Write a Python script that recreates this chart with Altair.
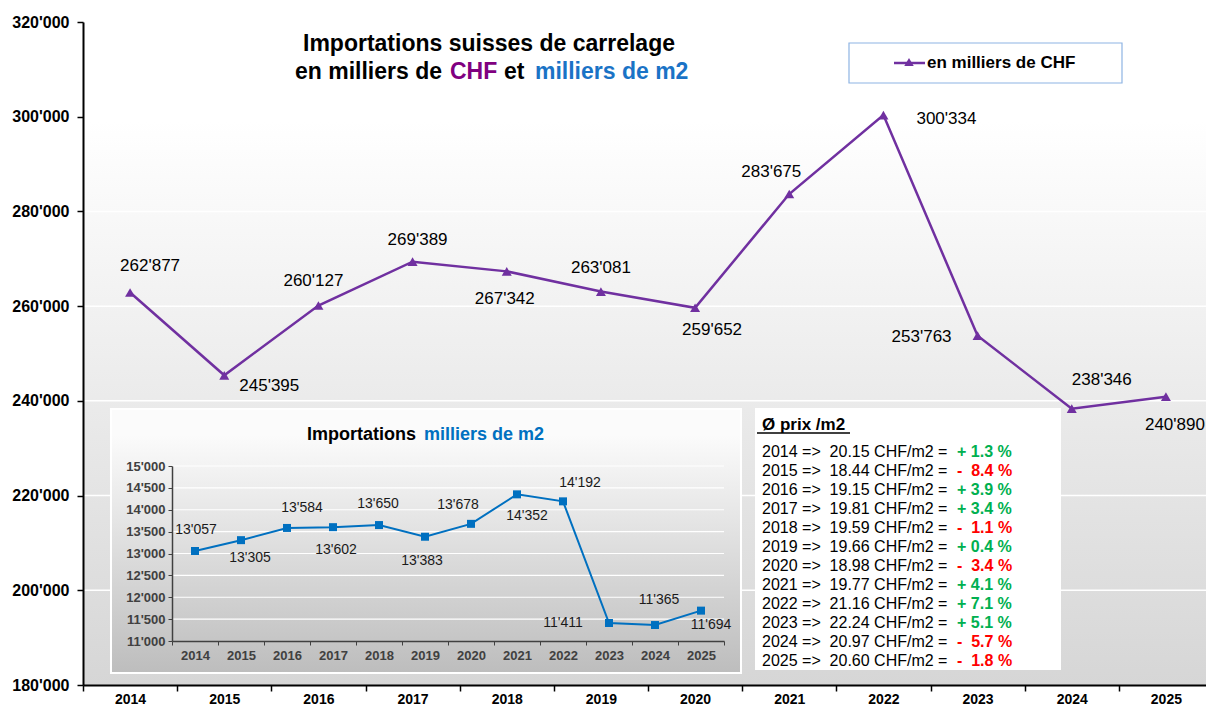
import altair as alt
import pandas as pd

# ---------------- data ----------------
years = list(range(2014, 2026))
chf_values = [262877, 245395, 260127, 269389, 267342, 263081, 259652, 283675, 300334, 253763, 238346, 240890]
m2_values = [13057, 13305, 13584, 13602, 13650, 13383, 13678, 14352, 14192, 11411, 11365, 11694]
price_m2 = ["20.15", "18.44", "19.15", "19.81", "19.59", "19.66", "18.98", "19.77", "21.16", "22.24", "20.97", "20.60"]
price_change = ["+ 1.3 %", "-  8.4 %", "+ 3.9 %", "+ 3.4 %", "-  1.1 %", "+ 0.4 %", "-  3.4 %",
                "+ 4.1 %", "+ 7.1 %", "+ 5.1 %", "-  5.7 %", "-  1.8 %"]
chf_ticks = list(range(180000, 320001, 20000))
m2_ticks = list(range(11000, 15001, 500))

# label placement (pixel offsets from each point), kept apart from the values
chf_label_dx = [20, 45, -5, 5, -2, 0, 17, -18, 63, -56, 30, 9]
chf_label_dy = [-27, 11, -25, -22, 28, -24, 22, -22, 4, 1, -29, 28]
m2_label_dx = [1, 9, 15, 3, -1, -3, -13, 10, 17, -46, 4, 10]
m2_label_dy = [-21, 18, -20, 23, -21, 24, -19, 22, -18, 0, -25, 14]

# ---------------- styles ----------------
FONT = "Liberation Sans"
PURPLE = "#7030a0"
BLUE = "#0070c0"
TITLE_PURPLE = "#800080"
TITLE_BLUE = "#1a73c6"
GREEN = "#00b050"
RED = "#ff0000"
W, H = 1123, 663


def fmt(v):
    return f"{v:,}".replace(",", "'")


LBL_EXPR = "replace(format(datum.value, ','), ',', \"'\")"
blank = pd.DataFrame({"k": [0]})

df_main = pd.DataFrame({"year": years, "chf": chf_values, "label": [fmt(v) for v in chf_values],
                        "dx": chf_label_dx, "dy": chf_label_dy})
df_m2 = pd.DataFrame({"year": years, "m2": m2_values, "label": [fmt(v) for v in m2_values],
                      "dx": m2_label_dx, "dy": m2_label_dy})
df_tab = pd.DataFrame({
    "row": list(range(len(years))),
    "left": [f"{y} =>\u00a0 {p} CHF/m2 = " for y, p in zip(years, price_m2)],
    "right": [c.replace("  ", "\u00a0 ") for c in price_change],
    "col": [GREEN if c.startswith("+") else RED for c in price_change],
})

# ---------------- scales ----------------
main_x = alt.Scale(type="band", domain=years, range=[0, 1130], paddingInner=0, paddingOuter=0)
main_y = alt.Scale(domain=[180000, 320000], zero=False, nice=False)
ins_x = alt.Scale(type="band", domain=years, range=[89, 641], paddingInner=0, paddingOuter=0)
ins_y = alt.Scale(domain=[11000, 15000], range=[619, 444], zero=False, nice=False)
tab_y = alt.Scale(domain=[0, 11], range=[430, 639], zero=False, nice=False)

main_xaxis = alt.Axis(orient="bottom", title=None, tickBand="extent", tickSize=6, tickWidth=1.5,
                      tickColor="black", domainColor="black", domainWidth=2, labelFontSize=14,
                      labelFontWeight="bold", labelColor="black", labelPadding=1, labelAngle=0,
                      zindex=1, grid=False)
main_yaxis = alt.Axis(orient="left", title=None, values=chf_ticks, tickSize=6, tickWidth=1.5,
                      tickColor="black", domainColor="black", domainWidth=2, labelFontSize=16,
                      labelFontWeight="bold", labelColor="black", labelPadding=8, labelExpr=LBL_EXPR,
                      zindex=1, grid=False)
ins_xaxis = alt.Axis(orient="bottom", offset=-44, title=None, tickBand="extent", tickSize=4,
                     tickWidth=1, tickColor="#404040", domainColor="#404040", domainWidth=1.5,
                     labelFontSize=13, labelFontWeight="bold", labelColor="#404040", labelPadding=4,
                     labelAngle=0, zindex=1, grid=False)
ins_yaxis = alt.Axis(orient="left", offset=-89, title=None, values=m2_ticks, tickSize=4, tickWidth=1,
                     tickColor="#404040", domainColor="#404040", domainWidth=1.5, labelFontSize=13,
                     labelFontWeight="bold", labelColor="#404040", labelPadding=3, labelExpr=LBL_EXPR,
                     zindex=1, grid=False)


def grad(c0, c1, mid=0.0):
    stops = [alt.GradientStop(offset=0, color=c0)]
    if mid > 0:
        stops.append(alt.GradientStop(offset=mid, color=c0))
    stops.append(alt.GradientStop(offset=1, color=c1))
    return alt.LinearGradient(gradient="linear", x1=0, x2=0, y1=0, y2=1, stops=stops)


layers = []

# main background + grid
layers.append(alt.Chart(blank).mark_rect(fill=grad("#ffffff", "#d6d6d6", 0.15), strokeWidth=0).encode(
    x=alt.value(0), x2=alt.value(W), y=alt.value(0), y2=alt.value(H)))
layers.append(alt.Chart(pd.DataFrame({"v": chf_ticks[1:]})).mark_rule(color="white", strokeWidth=1.5).encode(
    y=alt.Y("v:Q", scale=main_y, axis=None)))

# inset background + grid
layers.append(alt.Chart(blank).mark_rect(fill=grad("#fbfbfb", "#bdbdbd", 0.1), stroke="white", strokeWidth=2).encode(
    x=alt.value(28), x2=alt.value(658), y=alt.value(387), y2=alt.value(651)))
layers.append(alt.Chart(pd.DataFrame({"v": m2_ticks[1:], "a": 0, "b": 1})).mark_rule(
    color="white", strokeWidth=1.2).encode(
    y=alt.Y("v:Q", scale=ins_y, axis=None),
    x=alt.X("a:Q", scale=alt.Scale(domain=[0, 1], range=[89, 641]), axis=None),
    x2="b:Q"))

# inset title
layers.append(alt.Chart(blank).mark_text(text="Importations", align="left", baseline="middle", fontSize=18,
                                         fontWeight="bold", color="black").encode(x=alt.value(224), y=alt.value(413)))
layers.append(alt.Chart(blank).mark_text(text="milliers de m2", align="left", baseline="middle", fontSize=18,
                                         fontWeight="bold", color=BLUE).encode(x=alt.value(341), y=alt.value(413)))

# inset series
ins_base_x = alt.X("year:O", scale=ins_x, bandPosition=0.5, axis=None)
ins_base_y = alt.Y("m2:Q", scale=ins_y, axis=None)
layers.append(alt.Chart(df_m2).mark_line(color=BLUE, strokeWidth=2).encode(
    x=alt.X("year:O", scale=ins_x, bandPosition=0.5, axis=ins_xaxis),
    y=alt.Y("m2:Q", scale=ins_y, axis=ins_yaxis)))
layers.append(alt.Chart(df_m2).mark_point(shape="square", filled=True, size=64, color=BLUE, opacity=1).encode(
    x=ins_base_x, y=ins_base_y))
layers.append(alt.Chart(df_m2).mark_text(fontSize=14, color="#1a1a1a", baseline="middle",
                                         dx=alt.ExprRef(expr="datum.dx"), dy=alt.ExprRef(expr="datum.dy")).encode(
    x=ins_base_x, y=ins_base_y, text="label:N"))

# price table
layers.append(alt.Chart(blank).mark_rect(fill="white").encode(
    x=alt.value(672), x2=alt.value(978), y=alt.value(386), y2=alt.value(648)))
layers.append(alt.Chart(blank).mark_text(text="Ø prix /m2", align="left", baseline="middle", fontSize=17,
                                         fontWeight="bold", color="black").encode(x=alt.value(679), y=alt.value(403)))
layers.append(alt.Chart(blank).mark_rule(color="black", strokeWidth=1.5).encode(
    x=alt.value(674), x2=alt.value(767), y=alt.value(411)))
layers.append(alt.Chart(df_tab).mark_text(align="left", baseline="middle", fontSize=16, color="black").encode(
    x=alt.value(679), y=alt.Y("row:Q", scale=tab_y, axis=None), text="left:N"))
layers.append(alt.Chart(df_tab).mark_text(align="left", baseline="middle", fontSize=16, fontWeight="bold").encode(
    x=alt.value(874), y=alt.Y("row:Q", scale=tab_y, axis=None), text="right:N",
    color=alt.Color("col:N", scale=None)))

# main title
layers.append(alt.Chart(blank).mark_text(text="Importations suisses de carrelage", align="center", baseline="middle",
                                         fontSize=23, fontWeight="bold", color="black").encode(
    x=alt.value(406), y=alt.value(22)))
for txt, xx, col in [("en milliers de", 212, "black"), ("CHF", 367, TITLE_PURPLE), ("et", 421, "black"),
                     ("milliers de m2", 452, TITLE_BLUE)]:
    layers.append(alt.Chart(blank).mark_text(text=txt, align="left", baseline="middle", fontSize=23,
                                             fontWeight="bold", color=col).encode(x=alt.value(xx), y=alt.value(50)))

# legend
layers.append(alt.Chart(blank).mark_rect(fill="white", stroke="#8eb4e3", strokeWidth=1.2).encode(
    x=alt.value(766), x2=alt.value(1039), y=alt.value(21), y2=alt.value(61)))
layers.append(alt.Chart(blank).mark_rule(color=PURPLE, strokeWidth=2.5).encode(
    x=alt.value(811), x2=alt.value(842), y=alt.value(41)))
layers.append(alt.Chart(blank).mark_point(shape="triangle-up", filled=True, size=90, color=PURPLE, opacity=1).encode(
    x=alt.value(826), y=alt.value(40)))
layers.append(alt.Chart(blank).mark_text(text="en milliers de CHF", align="left", baseline="middle", fontSize=17,
                                         fontWeight="bold", color="black").encode(x=alt.value(844), y=alt.value(41)))

# main series
m_x = alt.X("year:O", scale=main_x, bandPosition=0.5, axis=None)
m_y = alt.Y("chf:Q", scale=main_y, axis=None)
layers.append(alt.Chart(df_main).mark_line(color=PURPLE, strokeWidth=2.5).encode(
    x=alt.X("year:O", scale=main_x, bandPosition=0.5, axis=main_xaxis),
    y=alt.Y("chf:Q", scale=main_y, axis=main_yaxis)))
layers.append(alt.Chart(df_main).mark_point(shape="triangle-up", filled=True, size=100, color=PURPLE,
                                            opacity=1).encode(x=m_x, y=m_y))
layers.append(alt.Chart(df_main).mark_text(fontSize=17, color="black", baseline="middle",
                                           dx=alt.ExprRef(expr="datum.dx"), dy=alt.ExprRef(expr="datum.dy")).encode(
    x=m_x, y=m_y, text="label:N"))

chart = alt.layer(*layers).resolve_scale(x="independent", y="independent").properties(
    width=W, height=H,
    padding={"left": 83, "top": 22, "right": 0, "bottom": 22},
    autosize=alt.AutoSizeParams(type="none"),
    background="white",
).configure_view(strokeWidth=0).configure_text(font=FONT).configure_axis(labelFont=FONT)

chart.save("out.html", embed_options={"renderer": "svg", "actions": False})
